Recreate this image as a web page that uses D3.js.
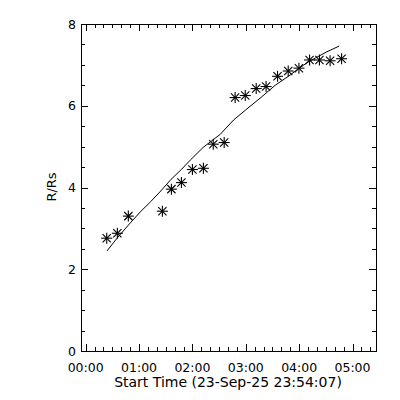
<!DOCTYPE html>
<html><head><meta charset="utf-8">
<script src="https://cdn.jsdelivr.net/npm/d3@7"></script>
<style>body{margin:0;background:#fff}svg{display:block}text{font-family:"DejaVu Sans",sans-serif;font-size:12.5px;fill:#000}</style>
</head><body>
<script>
// Hours after start time
const starTimes = [0.394,0.593,0.799,1.437,1.606,1.794,2.0,2.206,2.39,2.595,2.80,2.99,3.195,3.38,3.595,3.795,3.996,4.195,4.38,4.58,4.795];
const starValues = [2.76,2.88,3.30,3.42,3.96,4.12,4.44,4.47,5.06,5.10,6.20,6.25,6.42,6.47,6.72,6.85,6.92,7.12,7.12,7.10,7.15];
const fitTimes = [0.40,0.60,0.80,1.02,1.20,1.39,1.60,1.80,1.96,2.20,2.52,2.77,3.00,3.30,3.55,3.83,4.00,4.18,4.35,4.52,4.75];
const fitValues = [2.45,2.78,3.08,3.40,3.63,3.89,4.20,4.45,4.67,4.98,5.30,5.65,5.90,6.22,6.50,6.75,6.92,7.08,7.20,7.32,7.46];
const xTickLabels = ["00:00","01:00","02:00","03:00","04:00","05:00"];
const yTicks = [0,2,4,6,8];
const xTitle = "Start Time (23-Sep-25 23:54:07)";
const yTitle = "R/Rs";

const svg = d3.select("body").append("svg").attr("width",400).attr("height",400);
const L=81,R=376,T=24,B=351;
const x = d3.scaleLinear().domain([-0.088,5.44]).range([L,R]);
const y = d3.scaleLinear().domain([0,8]).range([B,T]);

const g = svg.append("g").attr("stroke","#000").attr("fill","none").attr("shape-rendering","crispEdges");
g.append("rect").attr("x",L).attr("y",T).attr("width",R-L).attr("height",B-T).attr("stroke-width",1);

// x ticks (major hourly, minor 10 min)
const xMinor = d3.range(0,5.44,1/6);
xMinor.forEach((t,i)=>{
  const major = i%6===0;
  const len = major?7:4;
  const px = Math.round(x(t))+0.5;
  g.append("line").attr("x1",px).attr("x2",px).attr("y1",B).attr("y2",B-len);
  g.append("line").attr("x1",px).attr("x2",px).attr("y1",T).attr("y2",T+len);
});
const yMinor = d3.range(0,8.01,0.5);
yMinor.forEach((v,i)=>{
  const major = i%4===0;
  const len = major?7:4;
  const py = Math.round(y(v))+0.5;
  g.append("line").attr("x1",L).attr("x2",L+len).attr("y1",py).attr("y2",py);
  g.append("line").attr("x1",R).attr("x2",R-len).attr("y1",py).attr("y2",py);
});

svg.selectAll(".xl").data(xTickLabels).enter().append("text")
  .attr("x",(d,i)=>x(i)).attr("y",372).attr("text-anchor","middle").text(d=>d);
svg.selectAll(".yl").data(yTicks).enter().append("text")
  .attr("x",76).attr("y",d=>y(d)+4.5).attr("text-anchor","end").text(d=>d);
svg.append("text").attr("x",228).attr("y",387).attr("text-anchor","middle").style("font-size","14px").text(xTitle);
svg.append("text").attr("transform","translate(56,187) rotate(-90)").attr("text-anchor","middle").style("font-size","13px").text(yTitle);

// fit line
const line = d3.line().x((d,i)=>x(fitTimes[i])).y(d=>y(d));
svg.append("path").datum(fitValues).attr("d",line).attr("fill","none").attr("stroke","#000").attr("stroke-width",1);

// asterisks
const s=5.5;
const star = svg.append("g").attr("stroke","#000").attr("stroke-width",1.1);
starValues.forEach((v,i)=>{
  const cx=x(starTimes[i]), cy=y(v);
  const gg=star.append("g").attr("transform",`translate(${cx},${cy})`);
  gg.append("line").attr("x1",-s).attr("x2",s).attr("y1",0).attr("y2",0);
  gg.append("line").attr("x1",0).attr("x2",0).attr("y1",-s).attr("y2",s);
  gg.append("line").attr("x1",-s*0.75).attr("x2",s*0.75).attr("y1",-s*0.75).attr("y2",s*0.75);
  gg.append("line").attr("x1",-s*0.75).attr("x2",s*0.75).attr("y1",s*0.75).attr("y2",-s*0.75);
});
</script>
</body></html>
